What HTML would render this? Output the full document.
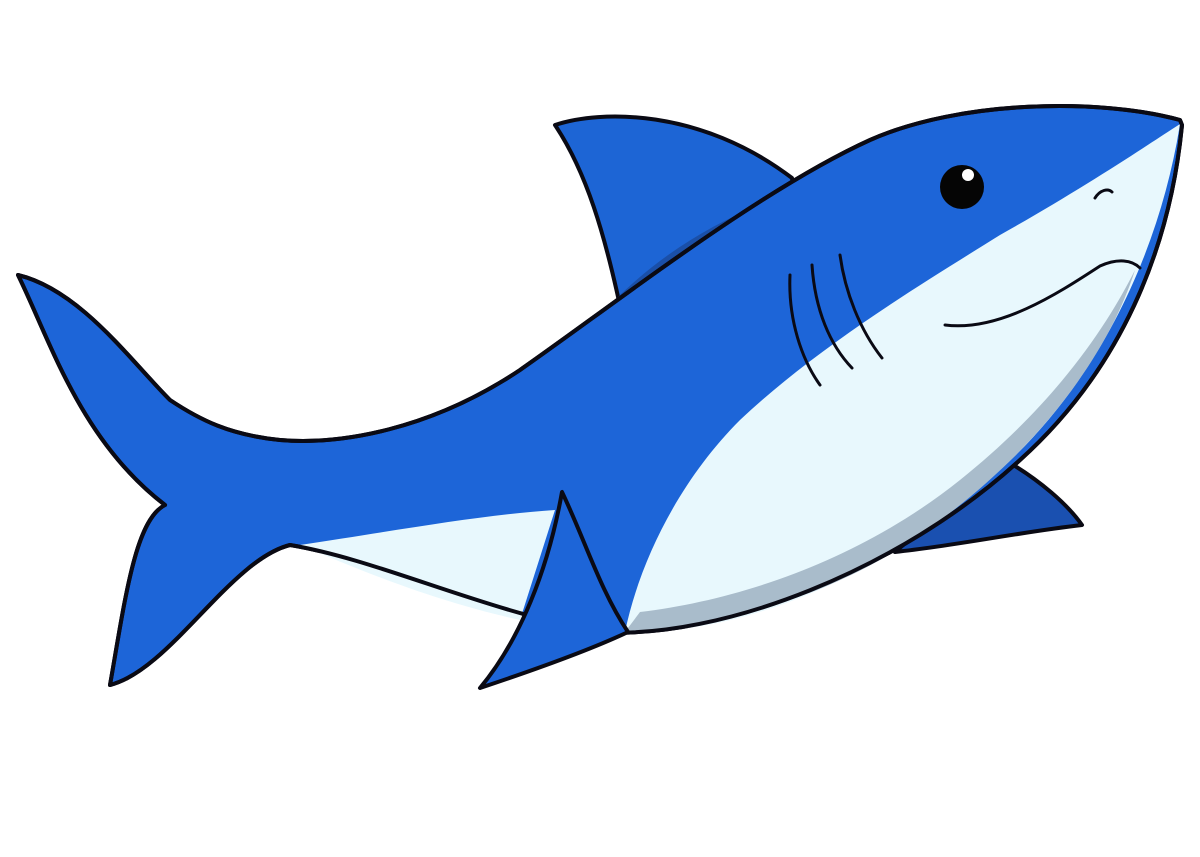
<!DOCTYPE html>
<html><head><meta charset="utf-8"><style>
html,body{margin:0;padding:0;background:#fff;width:1200px;height:857px;overflow:hidden}
</style></head><body>
<svg width="1200" height="857" viewBox="0 0 1200 857" xmlns="http://www.w3.org/2000/svg">
<g stroke="#0a0a14" stroke-width="4" stroke-linejoin="round" stroke-linecap="round">
<path d="M555,125 C600,110 700,108 792,178 L800,240 L625,330 C605,230 585,170 555,125 Z" fill="#1d65d5"/>
<path d="M615,300 C660,255 710,225 760,205 L700,250 C660,270 635,285 618,298 Z" fill="#1a4fa8" stroke="none"/>
<path d="M895,552 C950,505 985,475 1005,460 C1040,480 1068,505 1082,525 C1020,532 960,545 895,552 Z" fill="#1a50b0"/>
<path d="M1180,120 C1100,98 960,100 870,140 C760,190 620,300 520,370 C430,430 340,445 280,440 C230,435 200,420 170,400 C130,360 80,290 18,275 C50,340 80,440 165,505 C135,520 125,600 110,685 C170,670 230,560 290,545 C380,560 480,610 600,632 C720,640 900,570 1020,460 C1120,370 1170,250 1182,125 Z" fill="#1d65d8"/>
<path d="M1180,124 C1160,250 1100,380 1000,470 C880,580 740,635 625,632 C640,560 680,480 740,420 C820,345 920,285 1000,235 C1080,190 1140,150 1180,124 Z" fill="#e8f8fd" stroke-width="0"/>
<path d="M1135,270 C1100,380 1000,490 880,560 C800,605 700,630 625,632 L640,612 C740,600 860,560 960,480 C1060,400 1110,320 1135,270 Z" fill="#a9bccb" stroke="none"/>
<path d="M300,545 C400,530 480,515 555,510 L520,620 C430,600 360,570 300,545 Z" fill="#e8f8fd" stroke="none"/>
<path d="M1180,120 C1100,98 960,100 870,140 C760,190 620,300 520,370 C430,430 340,445 280,440 C230,435 200,420 170,400 C130,360 80,290 18,275 C50,340 80,440 165,505 C135,520 125,600 110,685 C170,670 230,560 290,545 C380,560 480,610 600,632 C720,640 900,570 1020,460 C1120,370 1170,250 1182,125 Z" fill="none"/>
<path d="M562,492 C548,570 520,640 480,688 C540,668 590,650 628,632 C600,590 585,540 562,492 Z" fill="#1d65d8"/>
<path d="M945,325 C1000,332 1060,292 1100,266 C1118,258 1132,260 1140,268" fill="none" stroke-width="3"/>
<path d="M790,275 C788,320 802,360 820,385" fill="none" stroke-width="3"/>
<path d="M812,265 C815,310 830,345 852,368" fill="none" stroke-width="3"/>
<path d="M840,255 C845,292 860,330 882,358" fill="none" stroke-width="3"/>
<path d="M1095,198 C1100,190 1108,188 1112,192" fill="none" stroke-width="3"/>
</g>
<circle cx="962" cy="187" r="22" fill="#050505"/>
<circle cx="968" cy="175" r="6" fill="#fff"/>
</svg>
</body></html>
